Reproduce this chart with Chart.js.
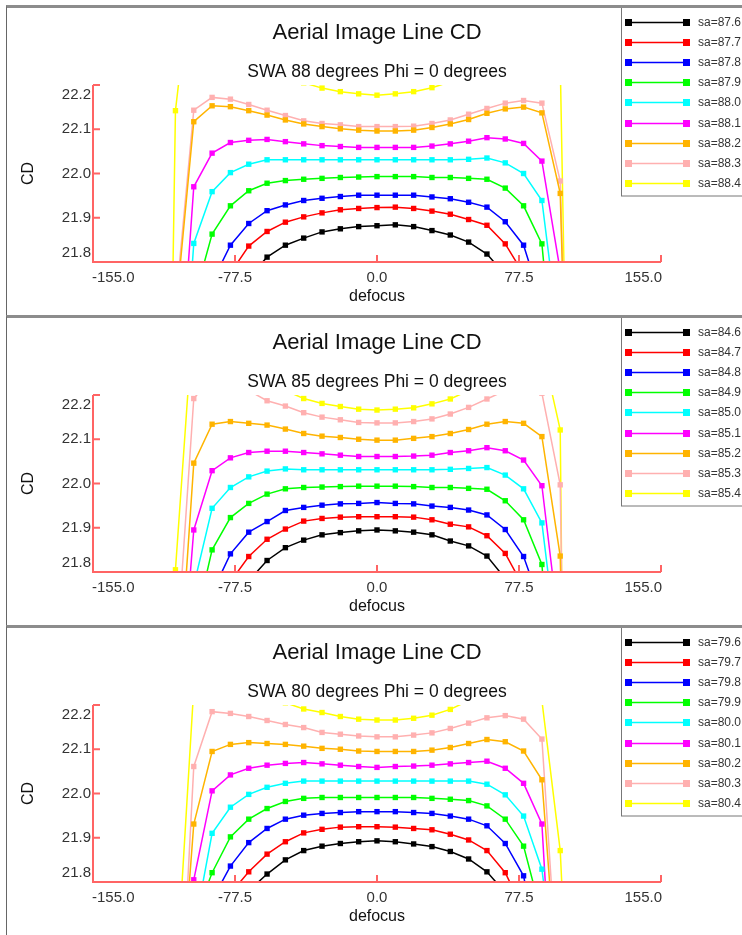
<!DOCTYPE html>
<html>
<head>
<meta charset="utf-8">
<title>Aerial Image Line CD</title>
<script src="https://cdn.jsdelivr.net/npm/chart.js@4.4.0/dist/chart.umd.min.js"></script>
<style>
    html, body { margin: 0; padding: 0; background: #fff; }
    body { width: 742px; height: 935px; position: relative; overflow: hidden; }
    .panel {
        position: absolute;
        left: 6px;
        width: 740px;
        height: 307px;
        border-top: 3px solid #8c8c8c;
        border-left: 1px solid #666;
        background: #fff;
    }
    .panel canvas { display: block; }
</style>
</head>
<body>
<div class="panel" style="top:5px"><canvas id="chart0" width="735" height="307"></canvas></div>
<div class="panel" style="top:315px"><canvas id="chart1" width="735" height="307"></canvas></div>
<div class="panel" style="top:625px"><canvas id="chart2" width="735" height="307"></canvas></div>

<script>
// defocus positions of the samples
const defocus = [-120, -110, -100, -90, -80, -70, -60, -50, -40, -30, -20, -10, 0,
                 10, 20, 30, 40, 50, 60, 70, 80, 90, 100, 110, 120];

// axis ticks
const xTicks = [-155, -77.5, 0, 77.5, 155];
const xTickLabels = ['-155.0', '-77.5', '0.0', '77.5', '155.0'];
const yTicks = [21.8, 21.9, 22.0, 22.1, 22.2];
const yTickLabels = ['21.8', '21.9', '22.0', '22.1', '22.2'];

const seriesColors = ['#000000', '#ff0000', '#0000ff', '#00ff00', '#00ffff',
                      '#ff00ff', '#ffb400', '#ffb0b0', '#ffff00'];

// ---- SWA 88 ----
const swa88Labels = ['sa=87.6', 'sa=87.7', 'sa=87.8', 'sa=87.9', 'sa=88.0', 'sa=88.1', 'sa=88.2', 'sa=88.3', 'sa=88.4'];
const swa88_876 = [21.1, 21.3, 21.45, 21.58, 21.68, 21.765, 21.811, 21.838, 21.854, 21.868, 21.875, 21.880, 21.882, 21.884, 21.880, 21.871, 21.861, 21.845, 21.818, 21.771, 21.70, 21.60, 21.47, 21.3, 21.1];
const swa88_877 = [21.2, 21.4, 21.55, 21.68, 21.775, 21.836, 21.869, 21.890, 21.902, 21.911, 21.918, 21.921, 21.923, 21.924, 21.921, 21.915, 21.908, 21.896, 21.883, 21.841, 21.773, 21.67, 21.53, 21.35, 21.15];
const swa88_878 = [21.25, 21.45, 21.6, 21.754, 21.838, 21.887, 21.916, 21.929, 21.939, 21.944, 21.948, 21.951, 21.951, 21.951, 21.951, 21.947, 21.943, 21.935, 21.924, 21.891, 21.838, 21.706, 21.55, 21.35, 21.15];
const swa88_879 = [21.3, 21.5, 21.713, 21.863, 21.927, 21.961, 21.978, 21.984, 21.987, 21.989, 21.991, 21.992, 21.993, 21.993, 21.993, 21.991, 21.991, 21.989, 21.987, 21.967, 21.927, 21.841, 21.40, 21.1, 20.8];
const swa88_880 = [20.9, 21.25, 21.842, 21.959, 22.002, 22.021, 22.031, 22.031, 22.031, 22.031, 22.031, 22.031, 22.031, 22.031, 22.031, 22.031, 22.031, 22.032, 22.035, 22.024, 22.000, 21.939, 21.609, 21.1, 20.7];
const swa88_881 = [20.9, 21.384, 21.970, 22.046, 22.070, 22.075, 22.077, 22.072, 22.067, 22.063, 22.061, 22.059, 22.059, 22.059, 22.059, 22.062, 22.067, 22.073, 22.081, 22.078, 22.068, 22.028, 21.78, 21.2, 20.7];
const swa88_882 = [21.2, 21.68, 22.117, 22.153, 22.151, 22.142, 22.132, 22.121, 22.112, 22.106, 22.101, 22.098, 22.096, 22.096, 22.098, 22.104, 22.112, 22.122, 22.136, 22.146, 22.150, 22.137, 21.955, 20.5, 20.0];
const swa88_883 = [21.2, 21.7, 22.143, 22.172, 22.168, 22.156, 22.143, 22.131, 22.119, 22.113, 22.110, 22.106, 22.106, 22.106, 22.107, 22.113, 22.121, 22.134, 22.147, 22.159, 22.165, 22.159, 21.983, 20.6, 20.0];
const swa88_884 = [19.5, 22.142, 22.5, 22.40, 22.33, 22.28, 22.25, 22.225, 22.205, 22.193, 22.185, 22.180, 22.177, 22.180, 22.185, 22.194, 22.207, 22.22, 22.24, 22.26, 22.27, 22.28, 22.25, 20.0, 19.0];

// ---- SWA 85 ----
const swa85Labels = ['sa=84.6', 'sa=84.7', 'sa=84.8', 'sa=84.9', 'sa=85.0', 'sa=85.1', 'sa=85.2', 'sa=85.3', 'sa=85.4'];
const swa85_846 = [21.3, 21.45, 21.58, 21.67, 21.73, 21.780, 21.826, 21.855, 21.872, 21.884, 21.889, 21.893, 21.895, 21.893, 21.890, 21.884, 21.870, 21.859, 21.836, 21.785, 21.72, 21.63, 21.5, 21.35, 21.2];
const swa85_847 = [21.2, 21.4, 21.56, 21.68, 21.778, 21.835, 21.874, 21.897, 21.915, 21.921, 21.924, 21.925, 21.925, 21.925, 21.924, 21.918, 21.908, 21.902, 21.882, 21.842, 21.766, 21.65, 21.5, 21.3, 21.1];
const swa85_848 = [21.25, 21.45, 21.6, 21.753, 21.841, 21.890, 21.914, 21.939, 21.946, 21.951, 21.954, 21.955, 21.957, 21.955, 21.954, 21.949, 21.946, 21.940, 21.929, 21.896, 21.835, 21.718, 21.55, 21.35, 21.15];
const swa85_849 = [21.2, 21.45, 21.670, 21.850, 21.923, 21.955, 21.976, 21.988, 21.991, 21.992, 21.993, 21.994, 21.994, 21.994, 21.993, 21.991, 21.991, 21.989, 21.987, 21.961, 21.918, 21.817, 21.3, 21.0, 20.7];
const swa85_850 = [20.9, 21.3, 21.769, 21.944, 21.991, 22.015, 22.028, 22.033, 22.031, 22.031, 22.031, 22.031, 22.031, 22.031, 22.031, 22.031, 22.032, 22.034, 22.036, 22.019, 21.988, 21.911, 21.573, 21.1, 20.7];
const swa85_851 = [20.9, 21.377, 21.895, 22.029, 22.058, 22.070, 22.073, 22.073, 22.070, 22.067, 22.064, 22.061, 22.061, 22.061, 22.062, 22.064, 22.070, 22.074, 22.081, 22.074, 22.053, 21.995, 21.650, 21.1, 20.7];
const swa85_852 = [20.9, 21.434, 22.046, 22.134, 22.140, 22.136, 22.132, 22.123, 22.113, 22.107, 22.104, 22.100, 22.098, 22.098, 22.102, 22.106, 22.113, 22.122, 22.134, 22.140, 22.136, 22.106, 21.836, 20.0, 19.5];
const swa85_853 = [20.5, 21.577, 22.192, 22.24, 22.23, 22.21, 22.187, 22.175, 22.160, 22.150, 22.144, 22.138, 22.137, 22.137, 22.140, 22.146, 22.157, 22.172, 22.191, 22.21, 22.215, 22.204, 21.997, 19.3, 18.5];
const swa85_854 = [18.0, 21.805, 22.394, 22.35, 22.3, 22.26, 22.23, 22.21, 22.192, 22.181, 22.174, 22.168, 22.166, 22.168, 22.171, 22.180, 22.191, 22.21, 22.24, 22.27, 22.29, 22.307, 22.121, 18.0, 17.5];

// ---- SWA 80 ----
const swa80Labels = ['sa=79.6', 'sa=79.7', 'sa=79.8', 'sa=79.9', 'sa=80.0', 'sa=80.1', 'sa=80.2', 'sa=80.3', 'sa=80.4'];
const swa80_796 = [21.3, 21.45, 21.57, 21.66, 21.73, 21.780, 21.818, 21.850, 21.871, 21.881, 21.887, 21.891, 21.893, 21.891, 21.886, 21.880, 21.869, 21.852, 21.823, 21.776, 21.71, 21.62, 21.5, 21.35, 21.2];
const swa80_797 = [21.2, 21.4, 21.56, 21.68, 21.774, 21.823, 21.863, 21.891, 21.911, 21.919, 21.924, 21.925, 21.925, 21.924, 21.921, 21.918, 21.908, 21.895, 21.871, 21.821, 21.735, 21.62, 21.48, 21.3, 21.1];
const swa80_798 = [21.25, 21.45, 21.6, 21.759, 21.836, 21.889, 21.921, 21.942, 21.951, 21.955, 21.957, 21.959, 21.959, 21.959, 21.957, 21.955, 21.949, 21.942, 21.927, 21.887, 21.814, 21.6, 21.4, 21.2, 21.0];
const swa80_799 = [21.2, 21.45, 21.71, 21.821, 21.902, 21.942, 21.966, 21.982, 21.989, 21.991, 21.991, 21.991, 21.991, 21.991, 21.991, 21.989, 21.987, 21.984, 21.972, 21.942, 21.881, 21.723, 21.4, 21.1, 20.8];
const swa80_800 = [20.9, 21.3, 21.688, 21.910, 21.969, 21.998, 22.014, 22.023, 22.028, 22.028, 22.028, 22.028, 22.028, 22.028, 22.028, 22.028, 22.028, 22.028, 22.021, 21.997, 21.949, 21.829, 21.5, 21.1, 20.7];
const swa80_801 = [20.7, 21.2, 21.805, 22.006, 22.042, 22.057, 22.064, 22.068, 22.070, 22.067, 22.064, 22.061, 22.059, 22.061, 22.062, 22.064, 22.067, 22.070, 22.073, 22.057, 22.023, 21.931, 21.215, 20.8, 20.5];
const swa80_802 = [20.9, 21.380, 21.931, 22.095, 22.111, 22.115, 22.113, 22.111, 22.107, 22.102, 22.100, 22.096, 22.095, 22.095, 22.095, 22.098, 22.104, 22.113, 22.122, 22.117, 22.096, 22.031, 21.481, 21.0, 20.6];
const swa80_803 = [20.8, 21.267, 22.061, 22.185, 22.181, 22.174, 22.165, 22.156, 22.149, 22.138, 22.134, 22.130, 22.128, 22.128, 22.132, 22.137, 22.147, 22.159, 22.171, 22.176, 22.168, 22.123, 21.49, 21.0, 20.6];
const swa80_804 = [20.5, 21.551, 22.238, 22.25, 22.25, 22.24, 22.22, 22.205, 22.191, 22.183, 22.174, 22.168, 22.166, 22.166, 22.170, 22.177, 22.190, 22.21, 22.23, 22.24, 22.23, 22.21, 21.871, 21.0, 20.5];

const panels = [
    { subtitle: 'SWA 88 degrees Phi = 0 degrees', labels: swa88Labels,
      series: [swa88_876, swa88_877, swa88_878, swa88_879, swa88_880, swa88_881, swa88_882, swa88_883, swa88_884] },
    { subtitle: 'SWA 85 degrees Phi = 0 degrees', labels: swa85Labels,
      series: [swa85_846, swa85_847, swa85_848, swa85_849, swa85_850, swa85_851, swa85_852, swa85_853, swa85_854] },
    { subtitle: 'SWA 80 degrees Phi = 0 degrees', labels: swa80Labels,
      series: [swa80_796, swa80_797, swa80_798, swa80_799, swa80_800, swa80_801, swa80_802, swa80_803, swa80_804] }
];

const FONT = '"Liberation Sans", Arial, sans-serif';
const axisColor = '#ff6464';

// Red axes with inward ticks, labels kept inside the axis ends
const axisDecor = {
    id: 'axisDecor',
    afterDatasetsDraw(chart) {
        const ctx = chart.ctx;
        const a = chart.chartArea;
        const xs = chart.scales.x, ys = chart.scales.y;
        ctx.save();
        ctx.strokeStyle = axisColor;
        ctx.lineWidth = 2;
        ctx.beginPath();
        ctx.moveTo(a.left, a.top);
        ctx.lineTo(a.left, a.bottom);
        ctx.lineTo(a.right, a.bottom);
        yTicks.forEach(v => {
            const py = ys.getPixelForValue(v);
            ctx.moveTo(a.left, py);
            ctx.lineTo(a.left + 7, py);
        });
        xTicks.forEach(v => {
            const px = xs.getPixelForValue(v);
            ctx.moveTo(px, a.bottom);
            ctx.lineTo(px, a.bottom - 7);
        });
        ctx.stroke();

        ctx.fillStyle = '#333';
        ctx.font = '15px ' + FONT;
        ctx.textBaseline = 'middle';
        ctx.textAlign = 'right';
        yTicks.forEach((v, i) => {
            let py = ys.getPixelForValue(v);
            if (i === 0) py -= 9;
            if (i === yTicks.length - 1) py += 10;
            ctx.fillText(yTickLabels[i], a.left - 2, py);
        });
        xTicks.forEach((v, i) => {
            let px = xs.getPixelForValue(v);
            ctx.textAlign = 'center';
            if (i === 0) { ctx.textAlign = 'left'; px -= 1; }
            if (i === xTicks.length - 1) { ctx.textAlign = 'right'; px += 1; }
            ctx.fillText(xTickLabels[i], px, a.bottom + 16);
        });
        ctx.restore();
    }
};

// Boxed legend in the top right corner: line with a square at each end
const boxLegend = {
    id: 'boxLegend',
    afterDraw(chart) {
        const ctx = chart.ctx;
        const sets = chart.data.datasets;
        ctx.save();
        ctx.strokeStyle = '#777';
        ctx.lineWidth = 1;
        ctx.strokeRect(614.5, -2, 140, 190);
        ctx.font = '12px ' + FONT;
        ctx.textBaseline = 'middle';
        ctx.textAlign = 'left';
        sets.forEach((ds, i) => {
            const y = Math.round(14 + i * 20.1) + 0.5;
            ctx.strokeStyle = ds.borderColor;
            ctx.lineWidth = 1.5;
            ctx.beginPath();
            ctx.moveTo(621, y);
            ctx.lineTo(679, y);
            ctx.stroke();
            ctx.fillStyle = ds.borderColor;
            ctx.fillRect(618, y - 3.5, 7, 7);
            ctx.fillRect(676, y - 3.5, 7, 7);
            ctx.fillStyle = '#333';
            ctx.fillText(ds.label, 691, y);
        });
        ctx.restore();
    }
};

panels.forEach((panel, p) => {
    const ctx = document.getElementById('chart' + p).getContext('2d');
    new Chart(ctx, {
        type: 'line',
        data: {
            datasets: panel.series.map((values, i) => ({
                label: panel.labels[i],
                data: values.map((v, k) => ({ x: defocus[k], y: v })),
                borderColor: seriesColors[i],
                backgroundColor: seriesColors[i],
                borderWidth: 1.5,
                pointStyle: 'rect',
                pointRadius: 3.8,
                pointBorderWidth: 0,
                tension: 0,
                fill: false
            }))
        },
        options: {
            responsive: false,
            animation: false,
            devicePixelRatio: 1,
            layout: { padding: { left: 0, right: 81, top: 0, bottom: 0 } },
            plugins: {
                legend: { display: false },
                tooltip: { enabled: false },
                title: {
                    display: true,
                    fullSize: false,
                    text: 'Aerial Image Line CD',
                    color: '#111',
                    font: { family: FONT, size: 22, weight: 'normal' },
                    padding: { top: 12, bottom: 0 }
                },
                subtitle: {
                    display: true,
                    fullSize: false,
                    text: panel.subtitle,
                    color: '#111',
                    font: { family: FONT, size: 17.5, weight: 'normal' },
                    padding: { top: 15, bottom: 2.6 }
                }
            },
            scales: {
                x: {
                    type: 'linear',
                    min: -155,
                    max: 155,
                    grid: { display: false },
                    border: { display: false },
                    ticks: { display: false },
                    title: {
                        display: true,
                        text: 'defocus',
                        color: '#111',
                        font: { family: FONT, size: 16 },
                        padding: { top: 0, bottom: 8.4 }
                    },
                    afterFit: scale => { scale.height = 53; }
                },
                y: {
                    type: 'linear',
                    min: 21.8,
                    max: 22.2,
                    grid: { display: false },
                    border: { display: false },
                    ticks: { display: false },
                    title: {
                        display: true,
                        text: 'CD',
                        color: '#111',
                        font: { family: FONT, size: 16 },
                        padding: { top: 12, bottom: 0 }
                    },
                    afterFit: scale => { scale.width = 86; }
                }
            }
        },
        plugins: [axisDecor, boxLegend]
    });
});
</script>
</body>
</html>
